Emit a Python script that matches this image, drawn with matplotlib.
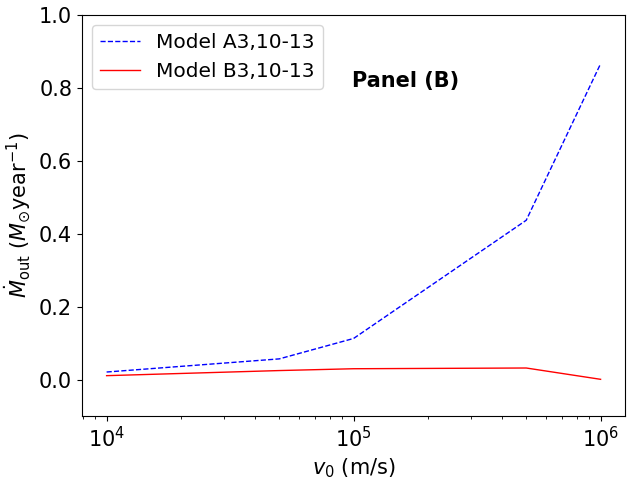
import matplotlib
matplotlib.use("Agg")
import matplotlib.pyplot as plt

v0 = [1e4, 5e4, 1e5, 5e5, 1e6]
model_a = [0.021, 0.057, 0.113, 0.437, 0.866]
model_b = [0.011, 0.025, 0.030, 0.032, 0.001]

fig, ax = plt.subplots(figsize=(6.4, 4.8), dpi=100)
ax.plot(v0, model_a, 'b--', lw=1, label='Model A3,10-13')
ax.plot(v0, model_b, 'r-', lw=1, label='Model B3,10-13')
ax.set_xscale('log')
ax.set_ylim(-0.1, 1.0)
ax.set_xlabel(r'$v_0$ (m/s)', fontsize=15)
ax.set_ylabel(r'$\dot{M}_{\rm out}$ ($M_{\odot}$year$^{-1}$)', fontsize=15)
ax.tick_params(labelsize=15)
ax.legend(fontsize=14.5, loc='upper left')
ax.text(0.595, 0.835, 'Panel (B)', transform=ax.transAxes, fontsize=15,
        fontweight='bold', ha='center', va='center')
fig.subplots_adjust(left=0.128, right=0.977, top=0.969, bottom=0.133)
fig.savefig('out.png')
